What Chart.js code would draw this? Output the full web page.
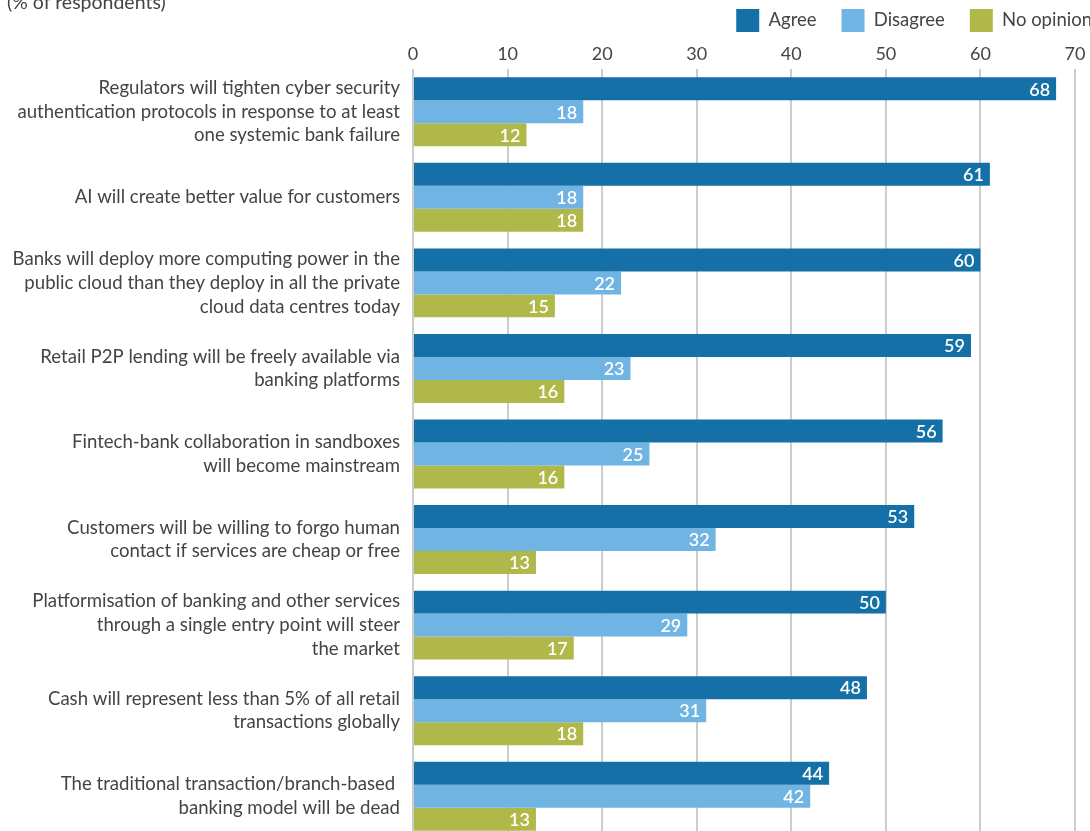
<!DOCTYPE html>
<html>
<head>
<meta charset="utf-8">
<script src="https://cdn.jsdelivr.net/npm/chart.js@4/dist/chart.umd.min.js"></script>
<style>
  html, body { margin: 0; padding: 0; background: #fff; overflow: hidden; }
  #wrap { position: relative; width: 1090px; height: 850px; }
  #note { position: absolute; left: 7px; top: -10px; font-family: Lato, sans-serif; font-size: 19.5px; color: #444; }
</style>
</head>
<body>
<div id="wrap">
  <canvas id="c" width="1090" height="850"></canvas>
  <div id="note">(% of respondents)</div>
</div>
<script>
const categories = [
  ["Regulators will tighten cyber security", "authentication protocols in response to at least", "one systemic bank failure"],
  ["AI will create better value for customers"],
  ["Banks will deploy more computing power in the", "public cloud than they deploy in all the private", "cloud data centres today"],
  ["Retail P2P lending will be freely available via", "banking platforms"],
  ["Fintech-bank collaboration in sandboxes", "will become mainstream"],
  ["Customers will be willing to forgo human", "contact if services are cheap or free"],
  ["Platformisation of banking and other services", "through a single entry point will steer", "the market"],
  ["Cash will represent less than 5% of all retail", "transactions globally"],
  ["The traditional transaction/branch-based ", "banking model will be dead"]
];
const agree     = [68, 61, 60, 59, 56, 53, 50, 48, 44];
const disagree  = [18, 18, 22, 23, 25, 32, 29, 31, 42];
const noOpinion = [12, 18, 15, 16, 16, 13, 17, 18, 13];
const tickValues = [0, 10, 20, 30, 40, 50, 60, 70];

const FONT = "Lato, 'Noto Sans', sans-serif";
const TEXT = "#444";

const valueLabels = {
  id: 'valueLabels',
  afterDatasetsDraw(chart) {
    const ctx = chart.ctx;
    ctx.save();
    ctx.fillStyle = '#fff';
    ctx.font = "600 18px " + FONT;
    ctx.textAlign = 'right';
    ctx.textBaseline = 'middle';
    chart.data.datasets.forEach((ds, di) => {
      chart.getDatasetMeta(di).data.forEach((el, i) => {
        ctx.fillText(String(ds.data[i]), el.x - 6, el.y + 1);
      });
    });
    ctx.restore();
  }
};

new Chart(document.getElementById('c'), {
  type: 'bar',
  data: {
    labels: categories,
    datasets: [
      { label: 'Agree', data: agree, backgroundColor: '#1470a6' },
      { label: 'Disagree', data: disagree, backgroundColor: '#70b4e3' },
      { label: 'No opinion', data: noOpinion, backgroundColor: '#b0b84a' }
    ]
  },
  options: {
    indexAxis: 'y',
    responsive: false,
    animation: false,
    layout: { padding: { top: -16, right: -27, bottom: 11, left: 0 } },
    datasets: { bar: { categoryPercentage: 0.806, barPercentage: 1.0, borderWidth: 0 } },
    plugins: {
      legend: {
        position: 'top',
        align: 'end',
        labels: {
          boxWidth: 23, boxHeight: 23, padding: 25,
          color: TEXT,
          font: { family: FONT, size: 18.5 }
        }
      },
      tooltip: { enabled: false }
    },
    scales: {
      x: {
        position: 'top',
        min: 0, max: 70,
        afterBuildTicks(scale) { scale.ticks = tickValues.map(v => ({ value: v })); },
        afterFit(scale) { scale.height = 27; scale.paddingRight = 15; scale.paddingLeft = 0; },
        grid: { color: '#cccccc', lineWidth: 2, drawTicks: false },
        border: { display: false },
        ticks: { color: TEXT, font: { family: FONT, size: 18 }, padding: 4, maxRotation: 0 }
      },
      y: {
        grid: { display: false, drawTicks: false },
        border: { display: false },
        afterFit(scale) { scale.width = 413; scale.paddingTop = 0; scale.paddingBottom = 0; },
        ticks: { color: TEXT, font: { family: FONT, size: 18.6, lineHeight: 1.27 }, padding: 13, autoSkip: false }
      }
    }
  },
  plugins: [valueLabels]
});
</script>
</body>
</html>
